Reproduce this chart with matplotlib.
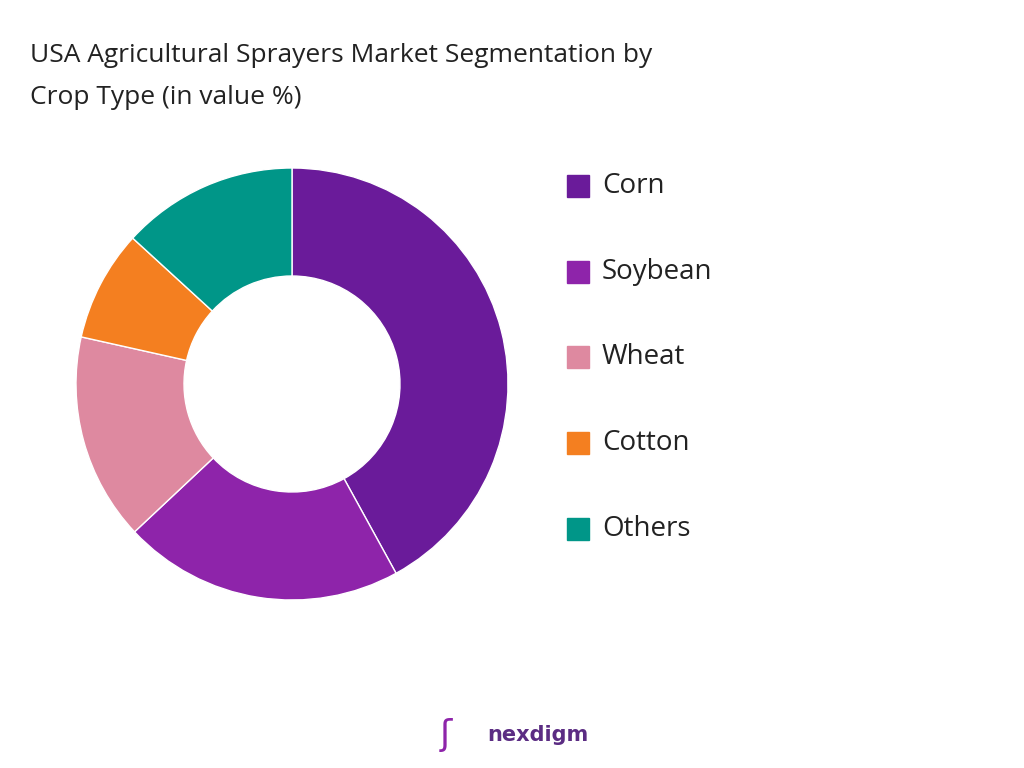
import matplotlib.pyplot as plt
from matplotlib.patches import Rectangle

labels = ["Corn", "Soybean", "Wheat", "Cotton", "Others"]
values = [42, 21, 15.5, 8.3, 13.2]
colors = ["#6A1B9A", "#8E24AA", "#DE89A0", "#F47F20", "#009688"]

fig = plt.figure(figsize=(10.24, 7.68), dpi=100)
ax = fig.add_axes([292/1024 - 216/1024, 1 - (384+216)/768, 432/1024, 432/768])
ax.pie(values, colors=colors, startangle=90, counterclock=False,
       wedgeprops=dict(width=0.5, edgecolor="white", linewidth=1))
ax.set_xlim(-1, 1); ax.set_ylim(-1, 1)
ax.set_aspect("equal")

fig.text(30/1024, 1 - 55/768, "USA Agricultural Sprayers Market Segmentation by", fontsize=19, color="#222222", va="center", family="Open Sans")
fig.text(30/1024, 1 - 97/768, "Crop Type (in value %)", fontsize=19, color="#222222", va="center", family="Open Sans")

ys = [186, 272, 357, 443, 529]
for lab, c, y in zip(labels, colors, ys):
    fig.patches.append(Rectangle((567/1024, 1 - (y+11)/768), 22/1024, 22/768, color=c, transform=fig.transFigure))
    fig.text(602/1024, 1 - y/768, lab, fontsize=20, color="#222222", va="center", family="Open Sans")

fig.text(487/1024, 1 - 735/768, "nexdigm", fontsize=15, color="#5B2C83", weight="bold", va="center")
fig.text(440/1024, 1 - 735/768, "ʃ", fontsize=26, color="#8E24AA", va="center")
fig.savefig("out.png")
